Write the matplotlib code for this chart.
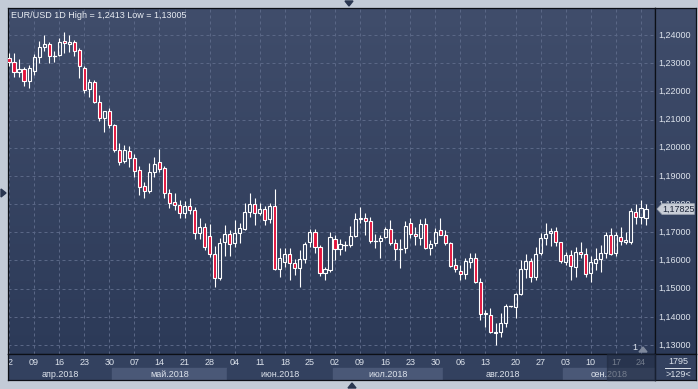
import matplotlib.pyplot as plt
import numpy as np
import pandas as pd
from matplotlib.patches import Rectangle, Polygon
from matplotlib.collections import LineCollection
from matplotlib.colors import LinearSegmentedColormap

plt.rcParams['font.family'] = ['Liberation Sans', 'DejaVu Sans']

# one bar per trading day, plus the odd Sunday bar of 19 Aug
dates = pd.bdate_range('2018-04-02', '2018-09-25').append(
    pd.DatetimeIndex(['2018-08-19'])).sort_values()

opens = [1.2318, 1.2304, 1.2269, 1.2280, 1.2237, 1.2272, 1.2322, 1.2357, 1.2368, 1.2325,
         1.2329, 1.2379, 1.2368, 1.2375, 1.2347, 1.2283, 1.2208, 1.2233, 1.2162, 1.2105,
         1.2130, 1.2080, 1.1992, 1.1953, 1.1988, 1.1964, 1.1921, 1.1864, 1.1846, 1.1914,
         1.1949, 1.1928, 1.1839, 1.1807, 1.1797, 1.1768, 1.1792, 1.1780, 1.1697, 1.1719,
         1.1687, 1.1623, 1.1538, 1.1665, 1.1694, 1.1662, 1.1697, 1.1712, 1.1772, 1.1800,
         1.1768, 1.1783, 1.1747, 1.1793, 1.1570, 1.1595, 1.1623, 1.1591, 1.1573, 1.1605,
         1.1665, 1.1701, 1.1648, 1.1555, 1.1566, 1.1676, 1.1641, 1.1656, 1.1655, 1.1687,
         1.1747, 1.1750, 1.1740, 1.1669, 1.1669, 1.1683, 1.1712, 1.1662, 1.1641, 1.1644,
         1.1733, 1.1694, 1.1680, 1.1729, 1.1644, 1.1662, 1.1708, 1.1690, 1.1662, 1.1584,
         1.1563, 1.1552, 1.1595, 1.1609, 1.1524, 1.1410, 1.1406, 1.1346, 1.1346, 1.1378,
         1.1438, 1.1435, 1.1481, 1.1570, 1.1598, 1.1541, 1.1626, 1.1680, 1.1697, 1.1705,
         1.1665, 1.1595, 1.1619, 1.1577, 1.1630, 1.1623, 1.1555, 1.1591, 1.1605, 1.1626,
         1.1690, 1.1626, 1.1683, 1.1665, 1.1665, 1.1772, 1.1754, 1.1751]
highs = [1.2337, 1.2336, 1.2315, 1.2287, 1.2294, 1.2333, 1.2379, 1.2400, 1.2375, 1.2343,
         1.2389, 1.2411, 1.2400, 1.2382, 1.2354, 1.2290, 1.2244, 1.2240, 1.2188, 1.2130,
         1.2141, 1.2085, 1.2016, 1.2010, 1.2006, 1.1978, 1.1935, 1.1878, 1.1946, 1.1967,
         1.1995, 1.1935, 1.1853, 1.1839, 1.1815, 1.1810, 1.1820, 1.1790, 1.1749, 1.1733,
         1.1729, 1.1650, 1.1680, 1.1726, 1.1708, 1.1743, 1.1733, 1.1804, 1.1839, 1.1822,
         1.1804, 1.1793, 1.1804, 1.1853, 1.1644, 1.1644, 1.1644, 1.1605, 1.1637, 1.1665,
         1.1712, 1.1712, 1.1655, 1.1577, 1.1701, 1.1690, 1.1676, 1.1670, 1.1722, 1.1768,
         1.1790, 1.1768, 1.1754, 1.1694, 1.1690, 1.1720, 1.1743, 1.1676, 1.1676, 1.1740,
         1.1751, 1.1719, 1.1747, 1.1751, 1.1673, 1.1715, 1.1751, 1.1708, 1.1665, 1.1609,
         1.1585, 1.1610, 1.1626, 1.1626, 1.1538, 1.1424, 1.1431, 1.1378, 1.1413, 1.1445,
         1.1440, 1.1485, 1.1602, 1.1623, 1.1609, 1.1648, 1.1697, 1.1733, 1.1715, 1.1719,
         1.1665, 1.1630, 1.1637, 1.1648, 1.1665, 1.1644, 1.1616, 1.1644, 1.1655, 1.1700,
         1.1715, 1.1700, 1.1720, 1.1700, 1.1787, 1.1800, 1.1815, 1.1800]
lows = [1.2290, 1.2251, 1.2251, 1.2219, 1.2212, 1.2258, 1.2301, 1.2343, 1.2301, 1.2304,
        1.2325, 1.2336, 1.2340, 1.2325, 1.2247, 1.2194, 1.2180, 1.2159, 1.2095, 1.2055,
        1.2071, 1.1985, 1.1937, 1.1946, 1.1932, 1.1896, 1.1832, 1.1822, 1.1839, 1.1896,
        1.1914, 1.1822, 1.1786, 1.1779, 1.1750, 1.1750, 1.1765, 1.1676, 1.1675, 1.1637,
        1.1612, 1.1506, 1.1531, 1.1616, 1.1616, 1.1648, 1.1662, 1.1708, 1.1754, 1.1726,
        1.1761, 1.1726, 1.1733, 1.1566, 1.1541, 1.1577, 1.1531, 1.1550, 1.1506, 1.1591,
        1.1648, 1.1626, 1.1545, 1.1530, 1.1559, 1.1600, 1.1619, 1.1635, 1.1648, 1.1683,
        1.1733, 1.1690, 1.1662, 1.1644, 1.1609, 1.1680, 1.1655, 1.1602, 1.1573, 1.1626,
        1.1680, 1.1655, 1.1655, 1.1641, 1.1619, 1.1650, 1.1690, 1.1655, 1.1577, 1.1559,
        1.1530, 1.1535, 1.1573, 1.1520, 1.1389, 1.1364, 1.1343, 1.1300, 1.1328, 1.1365,
        1.1436, 1.1396, 1.1478, 1.1538, 1.1524, 1.1531, 1.1619, 1.1655, 1.1651, 1.1650,
        1.1591, 1.1584, 1.1530, 1.1541, 1.1610, 1.1541, 1.1525, 1.1566, 1.1559, 1.1610,
        1.1619, 1.1615, 1.1655, 1.1660, 1.1660, 1.1730, 1.1730, 1.1726]
closes = [1.2304, 1.2269, 1.2280, 1.2237, 1.2283, 1.2322, 1.2357, 1.2368, 1.2325, 1.2326,
          1.2375, 1.2372, 1.2374, 1.2343, 1.2290, 1.2205, 1.2233, 1.2162, 1.2105, 1.2130,
          1.2080, 1.1992, 1.1950, 1.1992, 1.1964, 1.1917, 1.1861, 1.1846, 1.1914, 1.1942,
          1.1924, 1.1839, 1.1804, 1.1797, 1.1768, 1.1792, 1.1780, 1.1697, 1.1719, 1.1648,
          1.1623, 1.1538, 1.1662, 1.1694, 1.1658, 1.1697, 1.1715, 1.1772, 1.1800, 1.1768,
          1.1783, 1.1743, 1.1793, 1.1570, 1.1609, 1.1623, 1.1591, 1.1573, 1.1605, 1.1658,
          1.1701, 1.1648, 1.1555, 1.1570, 1.1683, 1.1641, 1.1658, 1.1655, 1.1687, 1.1747,
          1.1750, 1.1740, 1.1669, 1.1668, 1.1680, 1.1712, 1.1662, 1.1641, 1.1642, 1.1722,
          1.1694, 1.1687, 1.1729, 1.1644, 1.1658, 1.1701, 1.1690, 1.1662, 1.1580, 1.1570,
          1.1552, 1.1598, 1.1609, 1.1524, 1.1410, 1.1412, 1.1346, 1.1343, 1.1378, 1.1438,
          1.1438, 1.1481, 1.1570, 1.1598, 1.1541, 1.1623, 1.1680, 1.1694, 1.1705, 1.1665,
          1.1598, 1.1619, 1.1580, 1.1630, 1.1623, 1.1552, 1.1594, 1.1605, 1.1626, 1.1690,
          1.1623, 1.1690, 1.1669, 1.1673, 1.1775, 1.1754, 1.1786, 1.1783]

months = ['апр.2018', 'май.2018', 'июн.2018', 'июл.2018', 'авг.2018', 'сен.2018']
price_ticks = [1.13, 1.14, 1.15, 1.16, 1.17, 1.18, 1.19, 1.20, 1.21, 1.22, 1.23, 1.24]
last_price = 1.17825
title = 'EUR/USD 1D High = 1,2413 Low = 1,13005'
bars_total = '1795'
bars_shown = '>129<'

W, H = 698, 389
fig = plt.figure(figsize=(W / 100, H / 100), dpi=100)
fig.patch.set_facecolor('#c3cbd7')


def box(x0, y0, x1, y1):
    # axes placed by pixel edges, y measured from the top
    return fig.add_axes([x0 / W, 1 - y1 / H, (x1 - x0) / W, (y1 - y0) / H])


def fpt(x, y):
    return x / W, 1 - y / H


def frame(a):
    for s in a.spines.values():
        s.set_color('#0c0f16')
        s.set_linewidth(0.9)


txt = '#dde3ec'
bg = LinearSegmentedColormap.from_list('bg', ['#404d6b', '#2c3a58'])
grad = np.linspace(0, 1, 256)[:, None]
x_lo, x_hi = -0.2, 128.8
y_lo, y_hi = 1.12681, 1.24958

# ---- main price panel
ax = box(8, 8, 655, 354)
ax.imshow(grad, aspect='auto', cmap=bg, extent=[x_lo, x_hi, y_lo, y_hi], zorder=0)
ax.set_xlim(x_lo, x_hi)
ax.set_ylim(y_lo, y_hi)
mondays = [i for i, d in enumerate(dates) if d.weekday() == 0]
ax.set_xticks(mondays)
ax.set_yticks(price_ticks)
ax.tick_params(length=0, labelbottom=False, labelleft=False)
ax.grid(True, color='#5a6786', lw=0.72, ls=(0, (3, 3)), zorder=1)
frame(ax)

o = np.array(opens)
h = np.array(highs)
l = np.array(lows)
c = np.array(closes)
top = np.maximum(o, c)
bot = np.minimum(o, c)
xs = np.arange(len(dates))
wicks = [[(x, hi), (x, t)] for x, hi, t in zip(xs, h, top)]
wicks += [[(x, b), (x, lo)] for x, b, lo in zip(xs, bot, l)]
ax.add_collection(LineCollection(wicks, colors='white', linewidths=0.8, zorder=3))
bw = 0.62
for x, oo, cc, t, b in zip(xs, o, c, top, bot):
    if t - b < 0.00015:
        ax.plot([x - bw / 2, x + bw / 2], [cc, cc], color='white', lw=0.9, zorder=4)
        continue
    ax.add_patch(Rectangle((x - bw / 2, b), bw, t - b,
                           facecolor='#e3123b' if cc < oo else 'none',
                           edgecolor='white', lw=0.8, zorder=4))

fig.text(*fpt(11, 15), title, color='#e8ecf2', fontsize=6.5, va='center', ha='left')
fig.text(*fpt(635, 348), '1', color=txt, fontsize=6.5, va='center', ha='center')
tri = [fpt(639, 352), fpt(647, 352), fpt(643, 347)]
fig.add_artist(Polygon(tri, closed=True, transform=fig.transFigure, color='#7e889c'))

# ---- right price scale
axr = box(655, 8, 696, 354)
axr.imshow(grad, aspect='auto', cmap=bg, extent=[0, 1, y_lo, y_hi], zorder=0)
axr.set_xlim(0, 1)
axr.set_ylim(y_lo, y_hi)
axr.set_xticks([])
axr.set_yticks([])
frame(axr)
for v in price_ticks:
    axr.text(0.08, v, f'{v:.5f}'.replace('.', ','), color=txt, fontsize=6.5,
             va='center', ha='left', zorder=2)
d = 0.0019
tag = [(0.05, last_price), (0.17, last_price + d), (0.96, last_price + d),
       (0.96, last_price - d), (0.17, last_price - d)]
axr.add_patch(Polygon(tag, closed=True, facecolor='#c9ced7', edgecolor='#9aa2b0',
                      lw=0.6, zorder=5))
axr.text(0.57, last_price, f'{last_price:.5f}'.replace('.', ','), color='#1b2438',
         fontsize=6.5, va='center', ha='center', zorder=6)

# ---- date scale
axb = box(8, 354, 655, 380)
axb.set_xlim(x_lo, x_hi)
axb.set_ylim(0, 1)
axb.set_xticks([])
axb.set_yticks([])
axb.set_facecolor('#33415f')
frame(axb)
month_idx = np.array([d.month for d in dates])
for k, m in enumerate(sorted(set(month_idx))):
    pos = np.where(month_idx == m)[0]
    a = x_lo if k == 0 else pos[0] - 0.5
    b = x_hi if k == len(months) - 1 else pos[-1] + 0.5
    axb.add_patch(Rectangle((a, 0), b - a, 0.46,
                            color='#4a5877' if k % 2 else '#33415f', zorder=1))
    axb.text((a + b) / 2, 0.23, months[k], color=txt, fontsize=6.5,
             ha='center', va='center', zorder=2)
for i in mondays:
    axb.text(i, 0.69, f'{dates[i].day:02d}', color=txt, fontsize=6.5,
             ha='center', va='center', clip_on=True, zorder=2)
shade = Rectangle(fpt(607, 380), 48 / W, 26 / H, transform=fig.transFigure,
                  color='#1f2a40', alpha=0.55, zorder=5)
fig.add_artist(shade)

# ---- bar counter box
axc = box(655, 354, 696, 380)
axc.set_xticks([])
axc.set_yticks([])
axc.set_facecolor('#33415f')
frame(axc)
axc.set_xlim(0, 1)
axc.set_ylim(0, 1)
axc.text(0.56, 0.7, bars_total, color=txt, fontsize=6.5, ha='center', va='center')
axc.plot([0.24, 0.85], [0.46, 0.46], color=txt, lw=0.7)
axc.text(0.56, 0.2, bars_shown, color=txt, fontsize=6.5, ha='center', va='center')

# small scroll arrows on the frame
for pts in ([(345, 1), (353, 1), (349, 6)],
            [(348, 388), (356, 388), (352, 383)],
            [(1, 189), (1, 197), (6, 193)]):
    fig.add_artist(Polygon([fpt(*p) for p in pts], closed=True,
                           transform=fig.transFigure, color='#2a3650'))

fig.savefig('out.png', dpi=100, facecolor=fig.get_facecolor())
